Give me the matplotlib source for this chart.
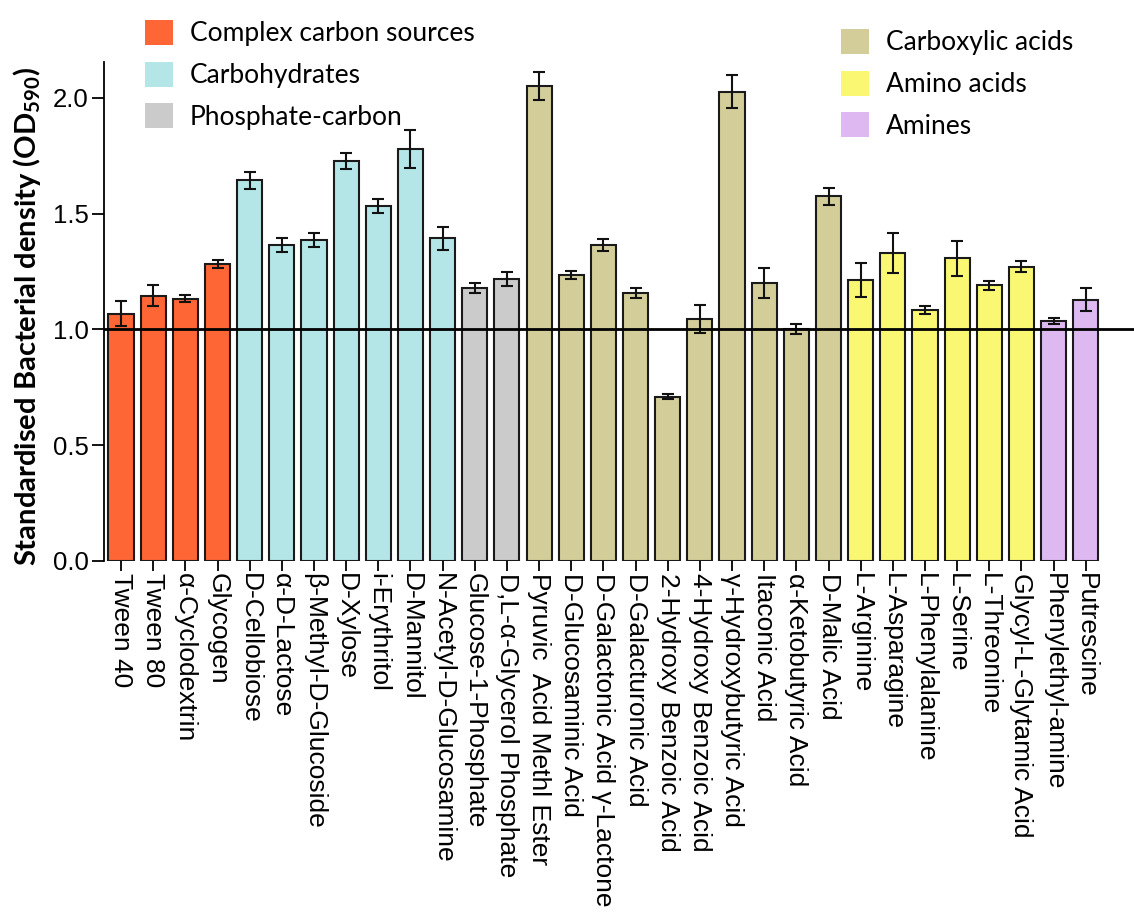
import matplotlib
matplotlib.use("Agg")
import matplotlib.pyplot as plt
from matplotlib.patches import Patch

# === Data ===
substrates = ['Tween 40', 'Tween 80', 'α-Cyclodextrin', 'Glycogen',
              'D-Cellobiose', 'α-D-Lactose', 'β-Methyl-D-Glucoside', 'D-Xylose',
              'i-Erythritol', 'D-Mannitol', 'N-Acetyl-D-Glucosamine',
              'Glucose-1-Phosphate', 'D,L-α-Glycerol Phosphate',
              'Pyruvic  Acid Methl Ester', 'D-Glucosaminic Acid',
              'D-Galactonic Acid γ-Lactone', 'D-Galacturonic Acid',
              '2-Hydroxy Benzoic Acid', '4-Hydroxy Benzoic Acid',
              'γ-Hydroxybutyric Acid', 'Itaconic Acid', 'α-Ketobutyric Acid',
              'D-Malic Acid', 'L-Arginine', 'L-Asparagine', 'L-Phenylalanine',
              'L-Serine', 'L-Threonine', 'Glycyl-L-Glytamic Acid',
              'Phenylethyl-amine', 'Putrescine']
density = [1.068, 1.145, 1.133, 1.282,
           1.644, 1.366, 1.387, 1.728, 1.535, 1.780, 1.394,
           1.180, 1.218,
           2.050, 1.234, 1.365, 1.157, 0.710, 1.045, 2.027, 1.202, 1.002, 1.575,
           1.214, 1.330, 1.084, 1.307, 1.190, 1.271,
           1.037, 1.129]
error = [0.055, 0.045, 0.016, 0.017,
         0.038, 0.031, 0.030, 0.034, 0.030, 0.082, 0.049,
         0.022, 0.029,
         0.060, 0.017, 0.026, 0.023, 0.012, 0.061, 0.070, 0.065, 0.022, 0.037,
         0.072, 0.088, 0.017, 0.075, 0.018, 0.024,
         0.014, 0.050]
group = (['Complex carbon sources'] * 4 + ['Carbohydrates'] * 7 +
         ['Phosphate-carbon'] * 2 + ['Carboxylic acids'] * 10 +
         ['Amino acids'] * 6 + ['Amines'] * 2)

group_colors = {'Complex carbon sources': '#FE6635',
                'Carbohydrates': '#B4E6E7',
                'Phosphate-carbon': '#CBCBCB',
                'Carboxylic acids': '#D3CE99',
                'Amino acids': '#FAF872',
                'Amines': '#DEB9F1'}

plt.rcParams['font.family'] = ['Liberation Sans', 'DejaVu Sans']
plt.rcParams['mathtext.fontset'] = 'custom'
plt.rcParams['mathtext.bf'] = 'Lato:bold'
plt.rcParams['mathtext.rm'] = 'Lato:bold'

fig = plt.figure(figsize=(11.34, 9.15), dpi=100)
ax = fig.add_axes([0.0917, 0.3869, 0.9083, 0.5453])

x = list(range(len(substrates)))
colors = [group_colors[g] for g in group]
ax.bar(x, density, width=0.78, color=colors, edgecolor='#1a1a1a', linewidth=1.5,
       yerr=error, capsize=4.5, error_kw=dict(elinewidth=1.5, capthick=1.5, ecolor='#111111'),
       zorder=2)
ax.axhline(1.0, color='black', linewidth=2.0, zorder=3)

ax.set_xlim(-0.53, 31.5)
ax.set_ylim(0, 2.155)
ax.set_yticks([0.0, 0.5, 1.0, 1.5, 2.0])
ax.set_yticklabels(['0.0', '0.5', '1.0', '1.5', '2.0'])
ax.set_xticks(x)
ax.set_xticklabels(substrates, rotation=270, ha='center', va='top')

for side in ['top', 'right', 'bottom']:
    ax.spines[side].set_visible(False)
ax.spines['left'].set_linewidth(1.3)
ax.tick_params(axis='y', labelsize=18.5, length=9, width=1.3, pad=2)
ax.tick_params(axis='x', labelsize=19, length=7, width=1.3, pad=2)

ax.set_ylabel(r'Standardised Bacterial density (OD$_\mathbf{590}$)',
              family='Lato', fontweight='bold', fontsize=21, labelpad=4)
ax.yaxis.set_label_coords(-0.059, 0.49)

# === Legends ===
names = list(group_colors.keys())
handles = [Patch(facecolor=group_colors[n], edgecolor='none', label=n) for n in names]
leg_kw = dict(frameon=False, prop={'family': 'Lato', 'size': 19},
              handlelength=1.07, handleheight=1.07, handletextpad=0.62,
              labelspacing=0.58, borderpad=0, borderaxespad=0)
leg1 = fig.legend(handles=handles[:3], loc='upper left',
                  bbox_to_anchor=(145 / 1134, 1 - 20 / 915), **leg_kw)
leg2 = fig.legend(handles=handles[3:], loc='upper left',
                  bbox_to_anchor=(841 / 1134, 1 - 29 / 915), **leg_kw)

fig.savefig('out.png', dpi=100)
